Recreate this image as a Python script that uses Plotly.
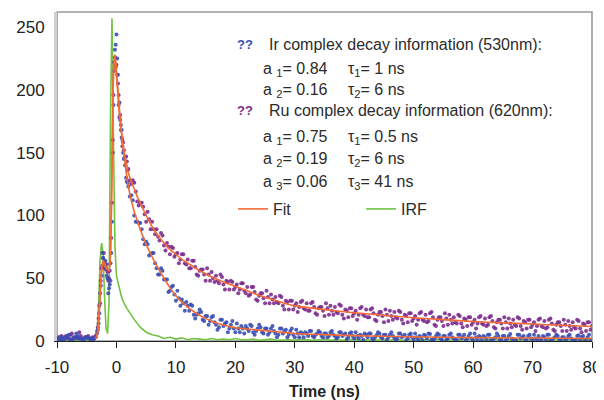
import numpy as np
import plotly.graph_objects as go

# ---------------- data ----------------
# sampling grids of the decay traces (ns); two interleaved sample sets
t_pre = np.arange(-10.0, -3.9, 0.5)          # -10 ... -4
t_rise = np.arange(-3.75, 1.76, 0.25)        # -3.75 ... 1.75
t_tail = np.arange(2.0, 80.01, 0.5)          # 2 ... 80
t_pre_b = np.arange(-9.75, -4.2, 0.5)        # -9.75 ... -4.25
t_rise_b = np.arange(-3.125, 1.9, 0.25)      # -3.125 ... 1.875
t_tail_b = np.arange(2.25, 79.8, 0.5)        # 2.25 ... 79.75

ir_pre = [2, 1, 3, 2, 5, 1, 2, 4, 2, 1, 3, 2, 1]
ir_rise = [2, 3, 6, 14, 30, 52, 66, 62, 58, 50, 42, 48, 95, 188, 232, 244, 212, 190, 168, 160, 145, 140, 127]
ir_tail = [123, 116, 100, 95, 94, 81, 79, 68, 70, 62, 53, 58, 49, 49, 40, 44, 32, 34, 33, 24,
           28, 29, 21, 21, 25, 17, 20, 13, 19, 15, 9, 17, 12, 15, 10, 16, 7, 10, 12, 6,
           10, 13, 7, 8, 13, 7, 10, 5, 10, 8, 3, 10, 6, 9, 5, 10, 3, 6, 7, 3,
           6, 8, 4, 5, 8, 4, 6, 3, 7, 5, 2, 7, 4, 6, 3, 7, 2, 4, 5, 1,
           5, 6, 2, 3, 7, 3, 5, 1, 5, 4, 1, 6, 3, 5, 2, 6, 1, 3, 4, 0.5,
           4, 6, 1, 2, 6, 2, 4, 1, 5, 3, 0.5, 5, 2, 5, 2, 6, 0.5, 3, 4, 0.5,
           3, 5, 1, 2, 6, 1, 4, 0.5, 4, 2, 0.5, 5, 2, 4, 1, 5, 0.5, 2, 4, 0.5,
           3, 5, 0.5, 2, 5, 1, 3, 0.5, 4, 2, 0.5, 4, 1, 4, 1, 5, 0.5]
ir_pre_b = [3, 1, 2, 4, 1, 3, 6, 2, 1, 3, 2, 1]
ir_rise_b = [9, 22, 44, 70, 60, 64, 52, 38, 45, 70, 150, 215, 236, 225, 196, 176, 168, 150, 146, 130, 126]
ir_tail_b = [115, 112, 95, 94, 89, 77, 77, 69, 70, 58, 53, 56, 49, 39, 43, 37, 40, 28, 30, 31,
             24, 28, 18, 22, 23, 16, 20, 16, 20, 13, 11, 17, 14, 7, 13, 10, 14, 7, 10, 12,
             8, 12, 5, 10, 11, 6, 10, 7, 12, 6, 5, 10, 8, 3, 8, 5, 9, 3, 6, 7,
             4, 8, 3, 6, 7, 3, 6, 4, 8, 4, 3, 7, 5, 1.5, 6, 4, 7, 2, 4, 6,
             3, 6, 1, 4.5, 6, 2, 5, 3, 7, 2.5, 2, 6, 4, 0.5, 5, 3, 6, 1, 3, 5,
             2, 5.5, 0.5, 4, 5, 1, 4, 2, 6, 2, 1, 5, 3, 0.5, 4, 2, 6, 0.5, 3, 4,
             1, 5, 0.5, 3, 4, 1, 4, 2, 5.5, 1, 0.5, 5, 3, 0.5, 4, 2, 5, 0.5, 2, 4,
             1, 5, 0.5, 3, 4, 0.5, 3, 1.5, 5, 1, 0.5, 4.5, 3, 0.5, 3, 1]

ru_pre = [2, 3, 1, 4, 2, 6, 3, 2, 4, 1, 3, 2, 3]
ru_rise = [2, 4, 8, 18, 38, 58, 66, 63, 57, 55, 50, 62, 110, 196, 226, 220, 205, 178, 172, 155, 152, 140, 143]
ru_tail = [137, 125, 126, 111, 110, 107, 95, 97, 95, 85, 83, 86, 76, 78, 69, 74, 69, 62, 69, 62,
           65, 58, 64, 53, 56, 57, 48, 53, 55, 47, 48, 53, 45, 48, 41, 47, 43, 38, 46, 40,
           43, 37, 43, 33, 36, 38, 30, 35, 37, 30, 31, 36, 28, 32, 25, 32, 28, 23, 31, 26,
           30, 24, 31, 22, 26, 27, 20, 26, 28, 21, 23, 29, 21, 25, 19, 26, 22, 17, 26, 21,
           25, 19, 26, 17, 21, 23, 15, 21, 24, 17, 19, 24, 17, 21, 15, 22, 18, 13, 22, 17,
           21, 16, 23, 13, 17, 19, 12, 18, 21, 14, 15, 21, 14, 18, 12, 19, 15, 10, 19, 14,
           18, 13, 20, 11, 15, 17, 10, 15, 18, 11, 13, 19, 12, 16, 10, 17, 13, 8, 17, 12,
           16, 11, 18, 9, 13, 15, 8, 13, 16, 9, 11, 17, 10, 14, 8, 15, 12]
ru_pre_b = [1, 4, 2, 3, 5, 2, 3, 7, 2, 3, 4, 2]
ru_rise_b = [11, 28, 48, 60, 70, 58, 61, 48, 56, 82, 160, 222, 218, 212, 188, 180, 162, 158, 146, 147, 136]
ru_tail_b = [128, 128, 119, 108, 110, 101, 103, 89, 89, 89, 80, 84, 72, 75, 75, 67, 70, 65, 69, 61,
             58, 64, 59, 52, 57, 53, 58, 48, 50, 52, 46, 51, 41, 47, 48, 41, 45, 41, 46, 38,
             36, 43, 39, 32, 38, 34, 40, 30, 33, 35, 30, 35, 25, 31, 32, 25, 30, 27, 32, 25,
             24, 30, 27, 21, 27, 24, 30, 21, 24, 27, 22, 28, 18, 24, 26, 20, 24, 21, 27, 20,
             19, 25, 22, 16, 23, 20, 25, 16, 20, 23, 18, 23, 14, 20, 22, 16, 20, 17, 23, 16,
             15, 22, 19, 12, 19, 16, 22, 13, 17, 19, 14, 20, 11, 17, 19, 13, 17, 14, 20, 13,
             12, 19, 16, 10, 17, 14, 19, 10, 14, 17, 12, 18, 9, 15, 17, 11, 15, 12, 18, 11,
             10, 17, 14, 8, 15, 12, 17, 8, 12, 15, 10, 16, 7, 13, 15, 9]

# instrument response function
irf_pre = [0.5, 1, 0.5, 1, 0.5, 0.5, 1, 0.5, 1, 0.5, 1, 0.5, 1]
irf_rise = [1, 2, 8, 30, 65, 78, 70, 35, 10, 6, 30, 180, 257, 160, 75, 52, 46, 40, 37, 33, 30, 28, 26]
t_irf_tail = np.arange(2.0, 80.01, 1.0)
irf_tail = [24, 17, 11, 7, 5, 4, 2, 3, 1.5, 2.5, 1, 2, 1.5, 1, 2, 1, 1.5, 1, 2, 1,
            1, 1.5, 0.5, 1, 1.5, 0.5, 1, 1, 0.5, 1.5, 1, 0.5, 1, 1.5, 0.5, 1, 0.5, 1, 1.5, 0.5,
            1, 0.5, 1, 1, 0.5, 1.5, 0.5, 1, 0.5, 1, 1, 0.5, 1.5, 0.5, 1, 0.5, 1, 1, 0.5, 1,
            0.5, 1, 1.5, 0.5, 1, 0.5, 1, 0.5, 1, 1, 0.5, 1, 0.5, 1, 0.5, 1, 1, 0.5, 1]

# fit curves
fit_t = [-3.5, -3.25, -3.0, -2.75, -2.5, -2.25, -2.0, -1.75, -1.5, -1.25, -1.0, -0.75, -0.5, -0.25,
         0, 0.25, 0.5, 0.75, 1.0, 1.5, 2, 2.5, 3, 3.5, 4, 5, 6, 7, 8, 9, 10, 11, 12, 13, 14, 15,
         16, 17, 18, 19, 20, 22, 24, 26, 28, 30, 35, 40, 45, 50, 55, 60, 65, 70, 75, 80]
fit_ir = [2, 4, 14, 35, 55, 62, 60, 58, 57, 56, 70, 140, 218, 228,
          215, 200, 185, 171, 159, 139, 123, 112, 103, 96, 89, 77, 67, 58, 50, 42.5, 36, 31, 27, 23.5, 20.5, 18,
          16, 14.2, 12.8, 11.6, 10.5, 9.6, 8.7, 7.8, 6.9, 6, 5.1, 4.3, 3.8, 3.3, 3.0, 2.7, 2.5, 2.35, 2.18, 2.0]
fit_ru = [2, 5, 16, 38, 57, 64, 62, 59, 57, 56, 72, 135, 210, 226,
          212, 196, 181, 170, 160, 145, 134, 127, 121, 115, 110, 100, 91, 84, 78, 73, 69, 65, 62, 59, 56, 53.5,
          51, 49, 47, 45.2, 43.5, 40, 36.5, 33.5, 30.5, 28, 25, 22.5, 20.5, 18.5, 17, 15.5, 14.5, 13.5, 12.5, 11.5]

x_ticks = [-10, 0, 10, 20, 30, 40, 50, 60, 70, 80]
x_tick_labels = ["-10", "0", "10", "20", "30", "40", "50", "60", "70", "80"]
y_ticks = [0, 50, 100, 150, 200, 250]

# ---------------- figure ----------------
t_data = np.concatenate([t_pre, t_rise, t_tail, t_pre_b, t_rise_b, t_tail_b])
ir = ir_pre + ir_rise + ir_tail + ir_pre_b + ir_rise_b + ir_tail_b
ru = ru_pre + ru_rise + ru_tail + ru_pre_b + ru_rise_b + ru_tail_b
t_irf = np.concatenate([t_pre, t_rise, t_irf_tail])
irf = irf_pre + irf_rise + irf_tail

BLUE = "#3a4fb5"
PURPLE = "#7d2d8f"
ORANGE = "#f26b35"
GREEN = "#72c244"
FONT = "Liberation Sans, Arial, sans-serif"

fig = go.Figure()
fig.add_trace(go.Scatter(x=t_irf, y=irf, mode="lines", name="IRF",
                         line=dict(color=GREEN, width=1.6), showlegend=True, legendrank=2))
fig.add_trace(go.Scatter(x=t_data, y=ru, mode="markers", name="Ru",
                         marker=dict(color=PURPLE, size=4, opacity=0.9), showlegend=False))
fig.add_trace(go.Scatter(x=t_data, y=ir, mode="markers", name="Ir",
                         marker=dict(color=BLUE, size=4, opacity=0.9), showlegend=False))
fig.add_trace(go.Scatter(x=fit_t, y=fit_ru, mode="lines", name="Fit",
                         line=dict(color=ORANGE, width=1.6, shape="spline", smoothing=0.6),
                         showlegend=True, legendrank=1))
fig.add_trace(go.Scatter(x=fit_t, y=fit_ir, mode="lines", name="Fit ",
                         line=dict(color=ORANGE, width=1.6, shape="spline", smoothing=0.6),
                         showlegend=False))

# page body has an 8px margin: the figure is sized to fit the 604x400 window
OFF = 8
W, H = 596, 392
L, T = 57 - OFF, 12 - OFF
R = W - (592 - OFF)
B = H - (341 - OFF)
PW, PH = W - L - R, H - T - B


def px(x, y):
    """screen pixel -> paper coordinates"""
    return (x - OFF - L) / PW, (H - B - (y - OFF)) / PH


TXT = "#2b2b2b"
ann = []


def text(x, y, s, color=TXT, size=16, bold=False):
    xp, yp = px(x, y)
    ann.append(dict(x=xp, y=yp, xref="paper", yref="paper", text=("<b>%s</b>" % s) if bold else s,
                    showarrow=False, xanchor="left", yanchor="middle",
                    font=dict(family=FONT, size=size, color=color)))


text(235, 44, "??", color=BLUE, size=13, bold=True)
text(267, 44, "Ir complex decay information (530nm):")
text(261, 69, "a <sub>1</sub>= 0.84")
text(346, 69, "τ<sub>1</sub>= 1 ns")
text(261, 91, "a <sub>2</sub>= 0.16")
text(346, 91, "τ<sub>2</sub>= 6 ns")
text(235, 111, "??", color=PURPLE, size=13, bold=True)
text(267, 111, "Ru complex decay information (620nm):")
text(261, 137, "a <sub>1</sub>= 0.75")
text(346, 137, "τ<sub>1</sub>= 0.5 ns")
text(261, 160, "a <sub>2</sub>= 0.19")
text(346, 160, "τ<sub>2</sub>= 6 ns")
text(261, 182, "a <sub>3</sub>= 0.06")
text(346, 182, "τ<sub>3</sub>= 41 ns")

lx, ly = px(233, 209)

fig.update_layout(
    width=W, height=H,
    margin=dict(l=L, r=R, t=T, b=B, autoexpand=False),
    paper_bgcolor="white", plot_bgcolor="white",
    font=dict(family=FONT, color=TXT),
    annotations=ann,
    legend=dict(orientation="h", x=lx, y=ly, xanchor="left", yanchor="middle",
                entrywidth=83, entrywidthmode="pixels", bgcolor="rgba(0,0,0,0)",
                font=dict(family=FONT, size=16, color=TXT), traceorder="normal"),
    shapes=[dict(type="rect", xref="paper", yref="paper", x0=0, x1=1, y0=0, y1=1,
                 line=dict(color="#9a9a9a", width=1.6), layer="below")],
)
fig.update_xaxes(range=[-10, 80], tickvals=x_ticks, ticktext=x_tick_labels, ticks="outside",
                 ticklen=6, tickwidth=1.2, tickcolor="#222", showline=True, linecolor="#222",
                 linewidth=1.2, showgrid=False, zeroline=False, ticklabelstandoff=4,
                 tickfont=dict(family=FONT, size=17, color="#222"),
                 title=dict(text="<b>Time (ns)</b>", font=dict(family=FONT, size=16, color="#222"),
                            standoff=14))
fig.update_yaxes(range=[0, 262], tickvals=y_ticks, ticks="", showline=True, linecolor="#cfcfcf",
                 linewidth=3, showgrid=False, zeroline=False, ticklabelstandoff=6,
                 tickfont=dict(family=FONT, size=17, color="#222"))

fig.write_html("out.html")
